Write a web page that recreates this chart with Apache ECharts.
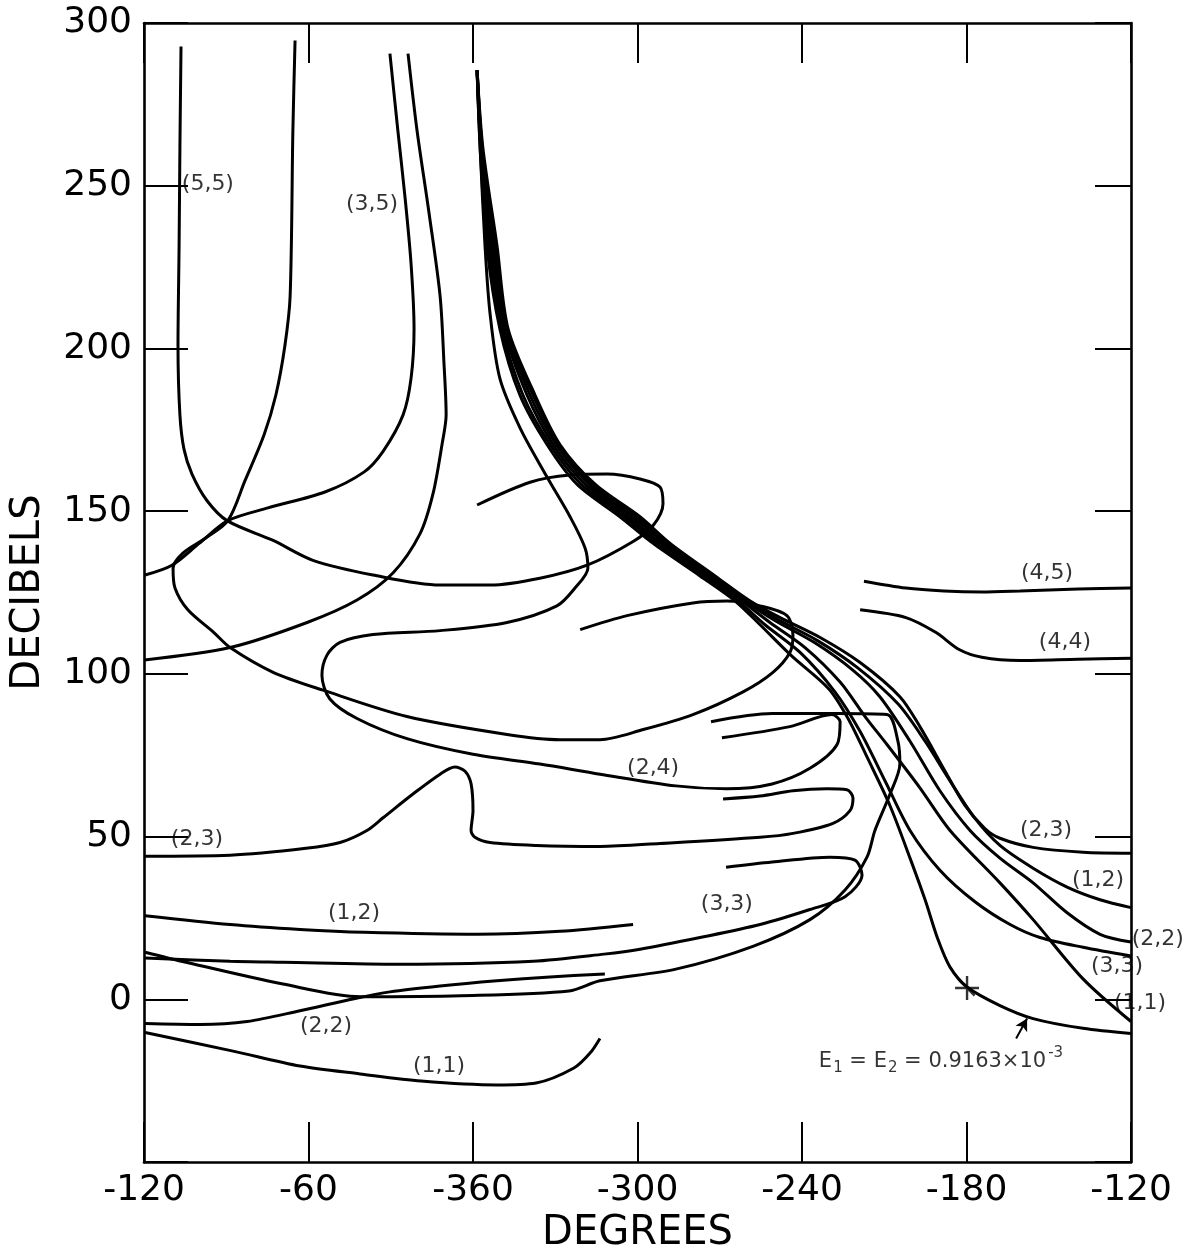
<!DOCTYPE html>
<html>
<head>
<meta charset="utf-8">
<script src="https://cdn.jsdelivr.net/npm/echarts/dist/echarts.min.js"></script>
<style>
html,body{margin:0;padding:0;background:#fff;}
#chart{width:1196px;height:1259px;}
</style>
</head>
<body>
<div id="chart"></div>
<script>
// ---- axis ticks (phase in degrees, gain in decibels) ----
const xTickValues = [-480, -420, -360, -300, -240, -180, -120];
const yTickValues = [0, 50, 100, 150, 200, 250, 300];

// ---- curves: [phase (deg, unwrapped), gain (dB)] ----
const curve55 = [[-466.5,292.8],[-466.9,261.7],[-467.2,231.3],[-467.6,200.9],[-466.9,179.6],[-465.4,169.0],[-462.5,161.4],[-457.0,153.2],[-449.7,147.1],[-432.9,141.0],[-418.4,134.9],[-396.5,130.4],[-372.0,127.3],[-353.8,127.3],[-335.6,129.4],[-318.4,133.4],[-301.6,140.7],[-294.3,145.6],[-290.7,152.3],[-291.8,157.4],[-299.1,159.9],[-311.1,161.4],[-324.6,161.1],[-339.2,158.9],[-358.5,151.9]];
const curve35 = [[-390.3,290.6],[-387.4,266.9],[-384.8,246.5],[-382.6,226.1],[-381.5,206.0],[-382.6,190.8],[-385.5,179.6],[-392.8,168.4],[-399.8,162.0],[-414.0,155.9],[-434.8,151.0],[-449.4,147.1],[-459.9,140.1],[-469.8,133.4],[-479.6,130.4]];
const curveB = [[-383.7,290.6],[-380.4,266.9],[-376.0,241.4],[-372.0,216.1],[-370.6,195.7],[-369.8,179.6],[-371.3,170.5],[-374.6,155.3],[-379.3,143.1],[-389.2,131.0],[-402.3,122.7],[-420.5,115.8],[-448.6,108.1],[-479.8,104.3]];
const curveC = [[-424.9,294.6],[-425.7,266.9],[-426.7,216.1],[-428.6,200.9],[-431.9,185.7],[-436.2,173.5],[-443.2,159.3],[-449.4,147.1],[-457.8,141.6],[-465.8,137.1],[-469.4,132.5],[-468.7,126.4],[-464.0,119.7],[-454.5,112.7],[-448.6,108.1],[-432.9,100.5],[-414.7,95.0],[-384.1,86.9],[-347.6,81.4],[-328.3,79.8],[-313.7,79.8],[-297.9,82.9],[-279.8,87.5],[-261.5,94.5],[-250.6,100.5],[-244.4,106.6],[-243.3,111.8],[-245.5,117.9],[-255.3,120.9],[-267.4,122.4],[-279.8,121.8],[-303.8,117.9],[-320.9,113.6]];
const curve24 = [[-358.5,284.5],[-357.4,261.7],[-355.6,231.3],[-353.8,210.9],[-350.2,190.8],[-342.9,175.7],[-333.0,160.5],[-324.6,148.3],[-319.1,138.6],[-318.1,132.5],[-322.8,126.4],[-329.4,120.9],[-347.6,115.8],[-372.0,113.3],[-396.5,112.1],[-408.5,109.7],[-413.3,105.7],[-415.1,99.6],[-412.2,92.3],[-402.3,86.3],[-384.1,80.1],[-360.0,75.3],[-335.6,72.3],[-313.7,69.2],[-286.0,65.6],[-267.7,64.7],[-250.9,66.2],[-237.1,71.0],[-227.2,78.3],[-226.1,85.3],[-229.1,87.5],[-244.4,83.8],[-269.2,80.4]];
const curve45 = [[-217.4,128.5],[-202.1,126.4],[-188.2,125.5],[-174.4,125.2],[-160.5,125.5],[-139.3,126.1],[-120,126.4]];
const curve44 = [[-218.8,119.7],[-202.1,117.3],[-191.1,112.7],[-182.7,107.5],[-174.4,105.1],[-160.5,104.1],[-139.3,104.5],[-120,104.8]];
const curve23L = [[-479.6,44.0],[-448.6,44.3],[-420.9,46.4],[-408.5,48.2],[-398.7,51.9],[-392.8,55.8],[-381.9,63.1],[-372.0,69.2],[-366.6,71.4],[-362.9,70.1],[-360.7,66.2],[-360.0,58.0],[-360.7,51.9],[-359.3,49.8],[-353.8,48.2],[-337.0,47.3],[-313.7,47.0],[-291.8,47.9],[-255.3,49.8],[-243.3,51.0],[-228.7,54.1],[-222.5,58.0],[-221.4,61.9],[-223.6,64.4],[-230.9,64.7],[-243.3,64.1],[-255.3,62.5],[-268.8,61.6]];
const curve12L = [[-479.6,25.7],[-448.6,23.0],[-423.1,21.5],[-399.8,20.6],[-358.2,20.0],[-328.3,20.9],[-301.6,23.0]];
const curve33L = [[-479.6,12.7],[-448.6,11.7],[-429.3,11.4],[-386.6,10.8],[-338.1,11.7],[-312.2,13.9],[-299.1,15.4],[-277.2,19.0],[-255.3,23.0],[-237.1,27.6],[-224.3,31.5],[-218.1,38.2],[-220.7,42.8],[-229.8,43.7],[-250.9,42.2],[-267.7,40.6]];
const curveD = [[-479.6,14.5],[-464.7,11.4],[-429.3,4.7],[-400.9,0.8],[-364.4,1.1],[-325.0,2.6],[-313.7,5.7],[-286.0,9.3],[-257.9,16.3],[-237.1,24.5],[-224.3,33.6],[-216.3,43.7],[-213.4,51.9],[-207.9,63.1],[-204.3,72.3],[-205.0,79.3],[-209.0,87.5],[-227.2,87.8],[-250.9,87.8],[-273.2,85.3]];
const curve22L = [[-479.6,-7.4],[-459.6,-7.7],[-442.4,-6.8],[-423.1,-3.5],[-403.4,0.2],[-390.3,2.3],[-372.0,4.1],[-351.3,5.7],[-331.9,6.9],[-311.9,7.8]];
const curve11L = [[-479.6,-10.2],[-447.5,-15.9],[-423.1,-20.5],[-401.2,-22.9],[-378.9,-25.1],[-351.3,-26.3],[-337.0,-25.7],[-323.2,-21.1],[-317.3,-16.5],[-313.7,-12.0]];
const curveE = [[-358.5,285.5],[-357.4,261.7],[-354.9,231.3],[-350.2,206.0],[-342.9,185.7],[-333.0,170.5],[-322.1,158.3],[-306.4,148.3],[-294.3,140.1],[-277.2,130.1],[-264.4,122.4],[-255.3,115.1],[-244.0,105.7],[-230.2,95.4],[-223.2,86.3],[-215.9,73.8],[-207.9,59.5],[-200.6,43.4],[-195.1,30.6],[-190.4,18.4],[-186.0,9.9],[-179.8,3.8],[-167.8,-1.9],[-155.7,-5.9],[-137.5,-8.9],[-120,-10.5]];
const curve33R = [[-358.5,285.5],[-357.1,261.7],[-354.2,231.3],[-349.4,206.0],[-341.8,185.7],[-331.9,170.5],[-320.6,158.3],[-304.9,148.3],[-292.9,140.1],[-276.1,130.1],[-263.3,122.4],[-253.5,115.1],[-240.7,106.6],[-228.0,94.5],[-218.8,82.3],[-209.7,67.1],[-200.6,51.9],[-189.7,39.7],[-176.9,30.0],[-164.1,23.0],[-153.2,19.0],[-137.5,16.0],[-120,13.3]];
const curve11R = [[-358.5,285.5],[-357.1,261.7],[-353.4,231.3],[-348.7,206.0],[-340.3,185.7],[-330.8,170.5],[-319.1,158.3],[-303.5,148.3],[-291.4,140.1],[-274.7,130.1],[-261.9,122.4],[-251.7,115.8],[-238.9,108.1],[-226.1,97.5],[-217.0,86.9],[-209.0,78.3],[-197.0,65.0],[-186.0,51.9],[-167.8,35.8],[-155.7,24.5],[-137.5,6.3],[-120,-6.8]];
const curve22R = [[-358.5,285.5],[-356.7,261.7],[-352.7,231.3],[-348.0,206.0],[-339.2,185.7],[-329.7,170.5],[-317.7,158.3],[-302.0,148.3],[-290.0,140.1],[-273.6,130.1],[-260.8,122.4],[-249.9,116.4],[-235.6,109.7],[-221.8,101.4],[-211.6,93.0],[-200.6,79.3],[-189.7,64.1],[-178.7,51.9],[-167.8,43.4],[-155.7,35.8],[-143.3,26.6],[-131.3,20.0],[-120,17.6]];
const curve12R = [[-358.5,285.5],[-356.7,261.7],[-352.0,231.3],[-347.6,206.0],[-338.1,185.7],[-329.0,170.5],[-316.6,158.3],[-300.5,148.3],[-288.9,140.1],[-272.5,130.1],[-259.7,122.4],[-248.8,116.7],[-234.5,110.3],[-219.9,102.0],[-205.0,90.8],[-195.1,79.3],[-186.0,67.1],[-176.9,55.6],[-167.8,47.3],[-155.7,40.3],[-143.3,34.5],[-131.3,30.6],[-120,28.2]];
const curve23R = [[-358.5,285.5],[-356.4,261.7],[-351.2,231.3],[-347.2,206.0],[-337.4,185.7],[-328.3,170.5],[-315.5,158.3],[-299.1,148.3],[-288.1,140.1],[-271.7,130.1],[-258.9,122.4],[-248.0,117.3],[-233.4,111.2],[-218.8,103.5],[-204.3,93.0],[-197.0,83.8],[-187.8,70.1],[-180.5,59.5],[-173.3,52.5],[-167.8,49.5],[-155.7,46.7],[-137.5,45.2],[-120,44.9]];

// ---- curve labels: [phase, gain, text] ----
const curveLabels = [
  [-456.7,250.4,'(5,5)'],[-396.8,244.4,'(3,5)'],[-150.6,131.0,'(4,5)'],[-144.1,109.7,'(4,4)'],
  [-294.3,71.0,'(2,4)'],[-460.7,49.3,'(2,3)'],[-403.4,26.5,'(1,2)'],[-413.6,-8.3,'(2,2)'],
  [-372.4,-20.5,'(1,1)'],[-267.4,29.1,'(3,3)'],[-151.0,51.9,'(2,3)'],[-132.0,36.7,'(1,2)'],
  [-110.2,18.4,'(2,2)'],[-125.1,10.2,'(3,3)'],[-116.7,-1.3,'(1,1)']
];
const starPoint = [-179.8, 3.5];
const arrow = [[-161.9,-12.0],[-157.9,-5.9]];
const noteAnchor = [-189.3, -19.0];
const noteText = ['E','1',' = E','2',' = 0.9163×10','-3'];

const FONT = 'DejaVu Sans';
const allCurves = [curve55, curve35, curveB, curveC, curve24, curve45, curve44, curve23L, curve12L, curve33L, curveD, curve22L, curve11L, curveE, curve33R, curve11R, curve22R, curve12R, curve23R];

const series = allCurves.map(d => ({
  type: 'line', data: d, symbol: 'none', smooth: 0.3, silent: true,
  lineStyle: { color: '#000', width: 3 }, z: 3
}));

series.push({
  type: 'scatter', clip: false, silent: true, symbolSize: 0, z: 5,
  data: curveLabels.map(l => ({ value: [l[0], l[1]], name: l[2] })),
  label: { show: true, position: 'inside', formatter: '{b}', color: '#000', fontFamily: FONT, fontSize: 22 }
});

series.push({
  type: 'scatter', silent: true, z: 6,
  data: [starPoint],
  symbol: 'path://M9,0h2v20h-2z M0,9h20v2h-20z M3,4.4l1.4,-1.4l12.6,12.6l-1.4,1.4z',
  symbolSize: 24, itemStyle: { color: '#000' }
});

series.push({
  type: 'scatter', clip: false, silent: true, symbolSize: 0, z: 5,
  data: [noteAnchor],
  label: {
    show: true, position: 'inside', color: '#000', fontFamily: FONT,
    formatter: '{n|' + noteText[0] + '}{s|' + noteText[1] + '}{n|' + noteText[2] + '}{s|' + noteText[3] + '}{n|' + noteText[4] + '}{p|' + noteText[5] + '}',
    rich: {
      n: { fontSize: 21, fontFamily: FONT, color: '#000' },
      s: { fontSize: 15, fontFamily: FONT, color: '#000', padding: [14, 0, 0, 1] },
      p: { fontSize: 15, fontFamily: FONT, color: '#000', padding: [0, 0, 16, 2] }
    }
  }
});

series.push({
  type: 'line', data: [], silent: true,
  markLine: {
    silent: true, symbol: ['none', 'arrow'], symbolSize: [10, 12], animation: false,
    lineStyle: { color: '#000', width: 2, type: 'solid' }, label: { show: false },
    data: [[{ coord: arrow[0] }, { coord: arrow[1] }]]
  }
});

const xFmt = v => String(v < -360 ? v + 360 : v);
const axisLineStyle = { color: '#000', width: 2.6 };

const option = {
  animation: false,
  backgroundColor: '#fff',
  grid: { left: 144, right: 65, top: 23, bottom: 83, containLabel: false },
  xAxis: [
    {
      type: 'value', position: 'bottom', min: xTickValues[0], max: xTickValues[xTickValues.length - 1], interval: 60,
      axisLine: { show: true, onZero: false, lineStyle: axisLineStyle },
      axisTick: { show: true, inside: true, length: 40, lineStyle: { color: '#000', width: 2 } },
      axisLabel: { show: true, formatter: xFmt, margin: 11, color: '#000', fontFamily: FONT, fontSize: 36 },
      splitLine: { show: false },
      name: 'DEGREES', nameLocation: 'middle', nameGap: 50,
      nameTextStyle: { color: '#000', fontFamily: FONT, fontSize: 40 }
    },
    {
      type: 'value', position: 'top', min: xTickValues[0], max: xTickValues[xTickValues.length - 1], interval: 60,
      axisLine: { show: true, onZero: false, lineStyle: axisLineStyle },
      axisTick: { show: true, inside: true, length: 40, lineStyle: { color: '#000', width: 2 } },
      axisLabel: { show: false }, splitLine: { show: false }
    }
  ],
  yAxis: [
    {
      type: 'value', position: 'left', min: -50, max: yTickValues[yTickValues.length - 1], interval: 50,
      axisLine: { show: true, onZero: false, lineStyle: axisLineStyle },
      axisTick: { show: true, inside: true, length: 44, lineStyle: { color: '#000', width: 2 } },
      axisLabel: { show: true, formatter: v => (v < 0 ? '' : String(v)), margin: 12, color: '#000', fontFamily: FONT, fontSize: 36 },
      splitLine: { show: false },
      name: 'DECIBELS', nameLocation: 'middle', nameGap: 95, nameRotate: 90,
      nameTextStyle: { color: '#000', fontFamily: FONT, fontSize: 40 }
    },
    {
      type: 'value', position: 'right', min: -50, max: yTickValues[yTickValues.length - 1], interval: 50,
      axisLine: { show: true, onZero: false, lineStyle: axisLineStyle },
      axisTick: { show: true, inside: true, length: 36, lineStyle: { color: '#000', width: 2 } },
      axisLabel: { show: false }, splitLine: { show: false }
    }
  ],
  series: series
};

const chart = echarts.init(document.getElementById('chart'));
chart.setOption(option);
</script>
</body>
</html>
